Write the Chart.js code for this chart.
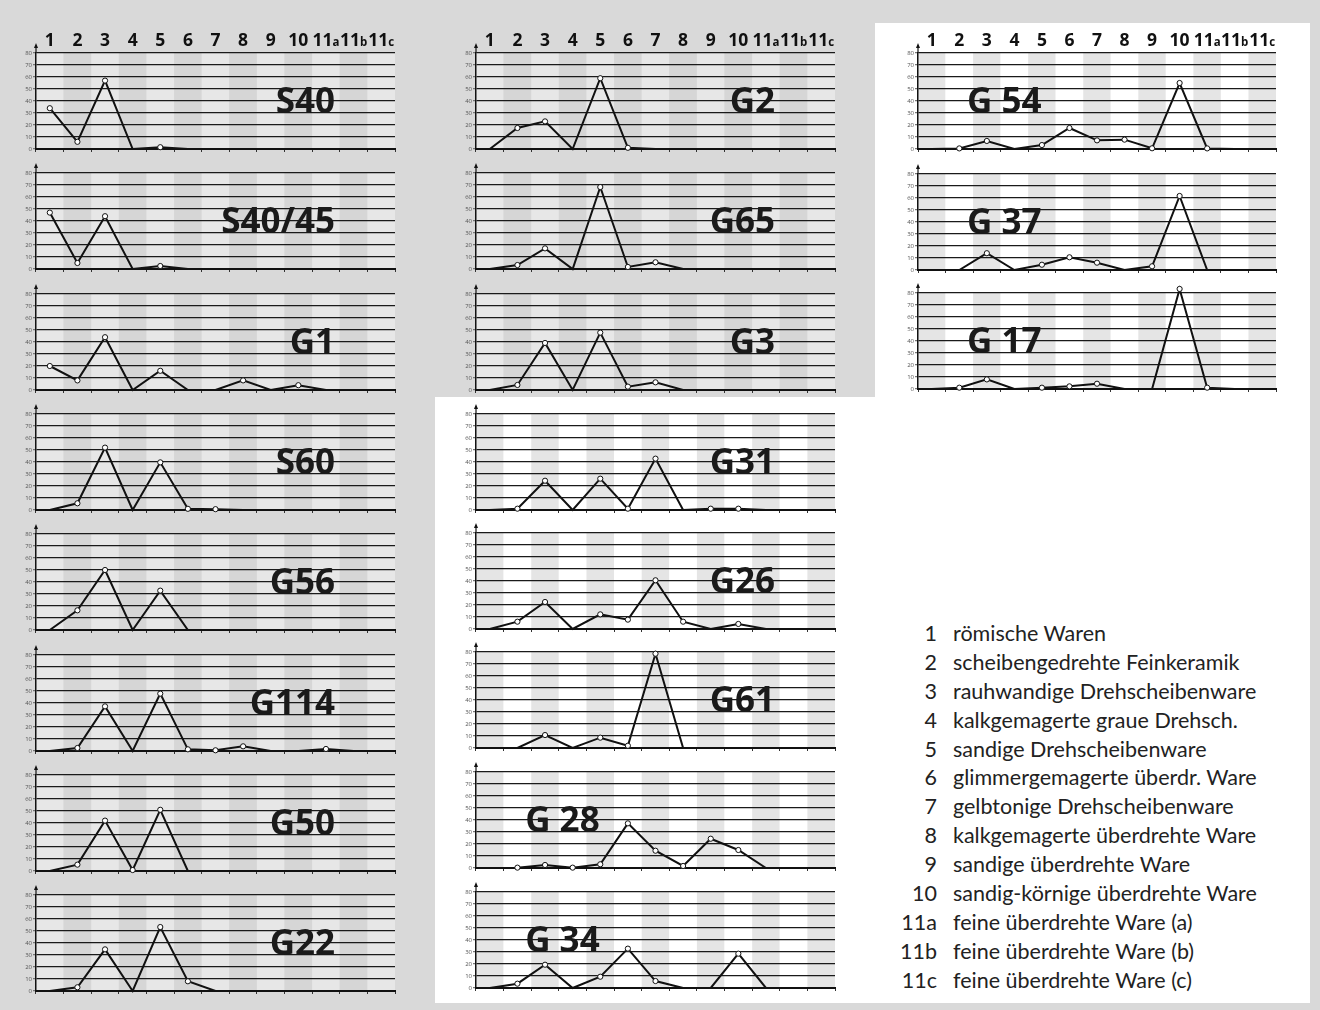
<!DOCTYPE html>
<html>
<head>
<meta charset="utf-8">
<script src="https://cdn.jsdelivr.net/npm/chart.js@4.4.1/dist/chart.umd.min.js"></script>
<style>
  html, body { margin: 0; padding: 0; }
  body { width: 1320px; height: 1010px; background: #d9d9d9; position: relative; overflow: hidden; }
  .white { position: absolute; background: #ffffff; }
  canvas { position: absolute; }
  #legend { position: absolute; left: 880px; top: 619px; font-family: Lato, "Open Sans", sans-serif; font-size: 21.5px; color: #222; }
  #legend .row { height: 28.9px; line-height: 28.9px; white-space: nowrap; }
  #legend .num { display: inline-block; width: 57px; text-align: right; }
  #legend .txt { display: inline-block; margin-left: 16px; }
</style>
</head>
<body>
<div class="white" style="left:875px;top:23px;width:435px;height:374px"></div>
<div class="white" style="left:435px;top:397px;width:875px;height:606px"></div>
<div id="legend"></div>

<script>
  "use strict";

  const categories = ["1", "2", "3", "4", "5", "6", "7", "8", "9", "10", "11a", "11b", "11c"];

  const legendTexts = [
    "römische Waren",
    "scheibengedrehte Feinkeramik",
    "rauhwandige Drehscheibenware",
    "kalkgemagerte graue Drehsch.",
    "sandige Drehscheibenware",
    "glimmergemagerte überdr. Ware",
    "gelbtonige Drehscheibenware",
    "kalkgemagerte überdrehte Ware",
    "sandige überdrehte Ware",
    "sandig-körnige überdrehte Ware",
    "feine überdrehte Ware (a)",
    "feine überdrehte Ware (b)",
    "feine überdrehte Ware (c)",
  ];

  // percentages per ware group (1 .. 11c)
  const s40 = [34, 6, 57, 0, 1.5, 0, 0, 0, 0, 0, 0, 0, 0];
  const s4045 = [47, 5, 44, 0, 2.5, 0, 0, 0, 0, 0, 0, 0, 0];
  const g1 = [20, 8, 44, 0, 16, 0, 0, 8, 0, 4, 0, 0, 0];
  const s60 = [0, 5.6, 52, 0, 39.7, 1, 0.7, 0, 0, 0, 0, 0, 0];
  const g56 = [0, 16.4, 50, 0, 32.8, 0, 0, 0, 0, 0, 0, 0, 0];
  const g114 = [0, 2.5, 37.2, 0, 47.8, 1.4, 0.6, 3.9, 0, 0, 1.7, 0, 0];
  const g50 = [0, 5.3, 42, 0.8, 51, 0, 0, 0, 0, 0, 0, 0, 0];
  const g22 = [0, 3.1, 34.7, 0, 53.3, 8.1, 0, 0, 0, 0, 0, 0, 0];

  const g2 = [0, 17.5, 23, 0, 59, 1, 0, 0, 0, 0, 0, 0, 0];
  const g65 = [0, 3.3, 17.2, 0, 68.3, 1.7, 5.6, 0, 0, 0, 0, 0, 0];
  const g3 = [0, 4.2, 39.2, 0, 47.8, 2.8, 6.4, 0, 0, 0, 0, 0, 0];
  const g31 = [0, 1.1, 24.4, 0, 26.1, 1.1, 42.8, 0, 1.1, 1.1, 0, 0, 0];
  const g26 = [0, 6.1, 22.5, 0, 12.2, 7.8, 40.6, 6.1, 0, 4.2, 0, 0, 0];
  const g61 = [0, 0, 10.8, 0, 8.6, 1.9, 78.6, 0, 0, 0, 0, 0, 0];
  const g28 = [0, 0.3, 2.5, 0.3, 3.1, 37.2, 14.4, 1.7, 24.4, 15, 0, 0, 0];
  const g34 = [0, 3.6, 19.4, 0, 9.4, 32.8, 5.8, 0, 0, 28.6, 0, 0, 0];

  const g54 = [0, 0.5, 6.7, 0, 3.3, 17.5, 7.2, 7.8, 0.6, 55, 0.5, 0, 0];
  const g37 = [0, 0, 14, 0, 4.4, 10.6, 6.1, 0, 3.1, 61.7, 0, 0, 0];
  const g17 = [0, 1.1, 8, 0, 1.1, 2.2, 4.4, 0, 0, 83.4, 1.1, 0, 0];

  // layout: column, baseline y, title placement, background
  const columns = {
    left: { x: 0, width: 400 },
    mid: { x: 440, width: 400 },
    right: { x: 882, width: 399 },
  };

  const panels = [
    { name: "S40", data: s40, col: "left", base: 149, top: true, side: "right", white: false },
    { name: "S40/45", data: s4045, col: "left", base: 269, side: "right", white: false },
    { name: "G1", data: g1, col: "left", base: 390, side: "right", white: false },
    { name: "S60", data: s60, col: "left", base: 510, side: "right", white: false },
    { name: "G56", data: g56, col: "left", base: 630, side: "right", white: false },
    { name: "G114", data: g114, col: "left", base: 751, side: "right", white: false },
    { name: "G50", data: g50, col: "left", base: 871, side: "right", white: false },
    { name: "G22", data: g22, col: "left", base: 991, side: "right", white: false },
    { name: "G2", data: g2, col: "mid", base: 149, top: true, side: "right", white: false },
    { name: "G65", data: g65, col: "mid", base: 269, side: "right", white: false },
    { name: "G3", data: g3, col: "mid", base: 390, side: "right", white: false },
    { name: "G31", data: g31, col: "mid", base: 510, side: "right", white: true },
    { name: "G26", data: g26, col: "mid", base: 629, side: "right", white: true },
    { name: "G61", data: g61, col: "mid", base: 748, side: "right", white: true },
    { name: "G 28", data: g28, col: "mid", base: 868, side: "left", white: true },
    { name: "G 34", data: g34, col: "mid", base: 988, side: "left", white: true },
    { name: "G 54", data: g54, col: "right", base: 149, top: true, side: "left", white: true },
    { name: "G 37", data: g37, col: "right", base: 270, side: "left", white: true },
    { name: "G 17", data: g17, col: "right", base: 389, side: "left", white: true },
  ];

  const FONT = '"Open Sans", "DejaVu Sans", sans-serif';
  const PLOT_H = 96;
  const AXIS_H = 6;

  const panelDeco = {
    id: "panelDeco",
    beforeDraw(chart, args, opts) {
      const { ctx, chartArea: a, scales } = chart;
      const x = scales.x;
      const w = (a.right - a.left) / categories.length;
      ctx.save();
      categories.forEach((c, i) => {
        const cx = x.getPixelForValue(i);
        ctx.fillStyle = i % 2 === 0 ? opts.bandA : opts.bandB;
        ctx.fillRect(cx - w / 2, a.top, w, a.bottom - a.top);
      });
      ctx.restore();
    },
    beforeDatasetsDraw(chart, args, opts) {
      const { ctx, chartArea: a } = chart;
      ctx.save();
      ctx.font = "bold 35px " + FONT;
      ctx.fillStyle = "#1a1a1a";
      ctx.textBaseline = "alphabetic";
      const width = a.right - a.left;
      if (opts.side === "right") {
        ctx.textAlign = "right";
        ctx.fillText(opts.title, a.left + width * 0.833, a.top + 60);
      } else {
        ctx.textAlign = "left";
        ctx.fillText(opts.title, a.left + width * 0.137, a.top + 60);
      }
      ctx.restore();
    },
    afterDraw(chart, args, opts) {
      const { ctx, chartArea: a, scales } = chart;
      ctx.save();
      // axis arrow
      ctx.strokeStyle = "#111";
      ctx.fillStyle = "#111";
      ctx.lineWidth = 1.2;
      ctx.beginPath();
      ctx.moveTo(a.left, a.top);
      ctx.lineTo(a.left, a.top - 6);
      ctx.stroke();
      ctx.beginPath();
      ctx.moveTo(a.left - 2, a.top - 5);
      ctx.lineTo(a.left + 2, a.top - 5);
      ctx.lineTo(a.left, a.top - 10);
      ctx.closePath();
      ctx.fill();

      // header with group numbers
      if (opts.header) {
        const x = scales.x;
        ctx.fillStyle = "#111";
        ctx.textBaseline = "alphabetic";
        ctx.textAlign = "left";
        categories.forEach((c, i) => {
          const num = c.match(/^\d+/)[0];
          const suf = c.slice(num.length);
          ctx.font = "bold 17.5px " + FONT;
          const w1 = ctx.measureText(num).width;
          ctx.font = "bold 11.5px " + FONT;
          const w2 = suf ? ctx.measureText(suf).width : 0;
          const start = x.getPixelForValue(i) - (w1 + w2) / 2;
          ctx.font = "bold 17.5px " + FONT;
          ctx.fillText(num, start, a.top - 7);
          if (suf) {
            ctx.font = "bold 11.5px " + FONT;
            ctx.fillText(suf, start + w1, a.top - 7);
          }
        });
      }
      ctx.restore();
    },
  };

  Chart.register(panelDeco);

  panels.forEach((p) => {
    const col = columns[p.col];
    const padTop = p.top ? 36 : 14;
    const canvas = document.createElement("canvas");
    canvas.width = col.width;
    canvas.height = padTop + PLOT_H + AXIS_H;
    canvas.style.left = col.x + "px";
    canvas.style.top = p.base - PLOT_H - padTop + "px";
    document.body.appendChild(canvas);

    new Chart(canvas.getContext("2d"), {
      type: "line",
      data: {
        labels: categories,
        datasets: [
          {
            data: p.data,
            borderColor: "#111",
            borderWidth: 2,
            tension: 0,
            clip: false,
            pointRadius: (c) => (c.raw > 0 ? 2.6 : 0),
            pointBackgroundColor: "#fff",
            pointBorderColor: "#111",
            pointBorderWidth: 1,
          },
        ],
      },
      options: {
        responsive: false,
        animation: false,
        events: [],
        layout: { padding: { top: padTop, right: 5, left: 0, bottom: 0 } },
        plugins: {
          legend: { display: false },
          tooltip: { enabled: false },
          panelDeco: {
            title: p.name,
            side: p.side,
            header: !!p.top,
            bandA: p.white ? "#e5e5e5" : "#e7e7e7",
            bandB: p.white ? "#ffffff" : "#d6d6d6",
          },
        },
        scales: {
          x: {
            type: "category",
            offset: true,
            ticks: { display: false },
            grid: { display: true, drawOnChartArea: false, tickLength: 3, color: "#333", offset: true },
            border: { color: "#111", width: 2 },
            afterFit: (s) => { s.height = AXIS_H; },
          },
          y: {
            min: 0,
            max: 80,
            ticks: { stepSize: 10, padding: 1, color: "#555", font: { size: 6, family: FONT } },
            grid: { color: "#1a1a1a", lineWidth: 1.2, tickLength: 3, tickColor: "#777" },
            border: { color: "#111", width: 1.5 },
            afterFit: (s) => { s.width = 36; },
          },
        },
      },
    });
  });

  const legend = document.getElementById("legend");
  categories.forEach((c, i) => {
    const row = document.createElement("div");
    row.className = "row";
    row.innerHTML = '<span class="num">' + c + '</span><span class="txt">' + legendTexts[i] + "</span>";
    legend.appendChild(row);
  });
</script>
</body>
</html>
